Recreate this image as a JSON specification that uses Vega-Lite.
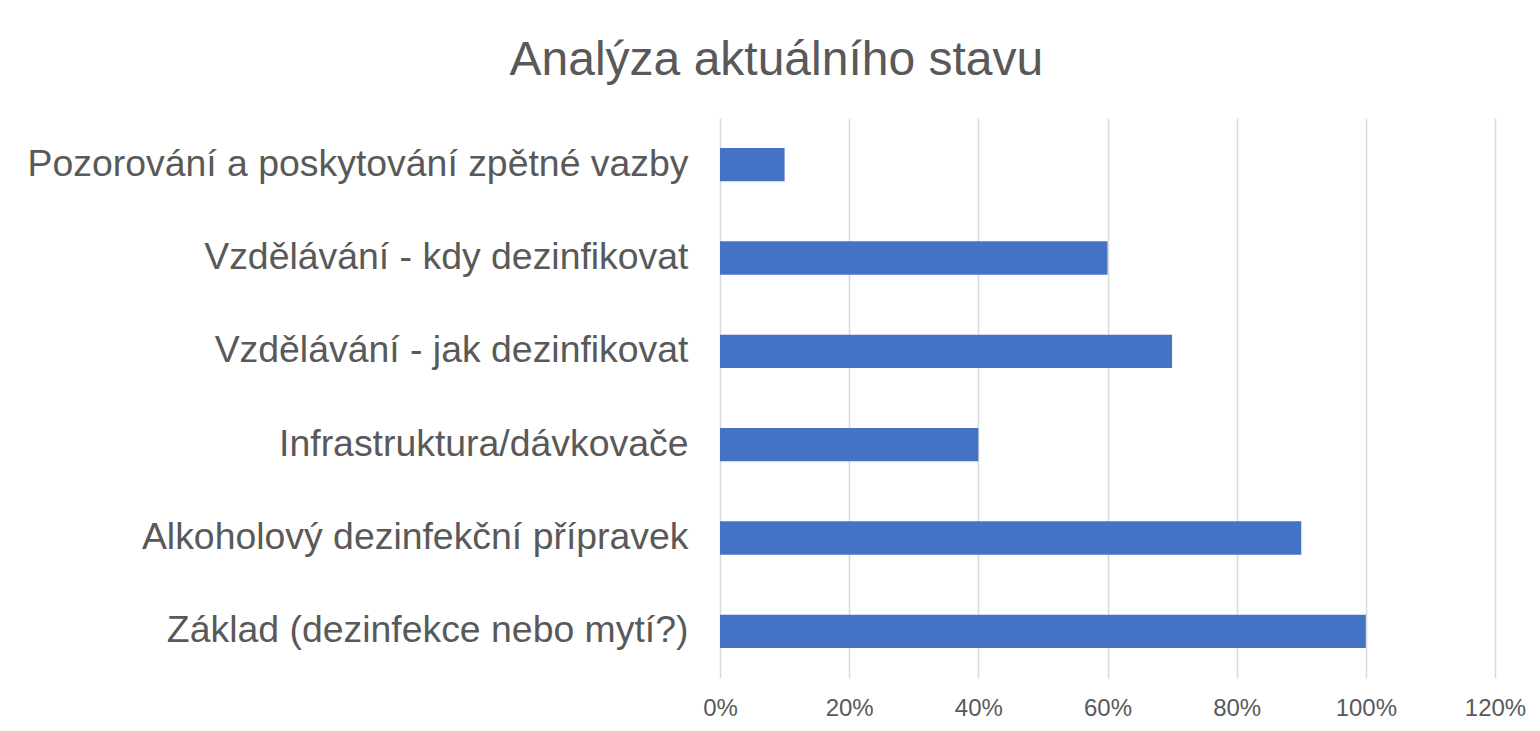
{
  "$schema": "https://vega.github.io/schema/vega-lite/v6.json",
  "autosize": "none",
  "width": 775,
  "height": 560,
  "padding": {"left": 720, "top": 118, "right": 45, "bottom": 53},
  "background": "white",
  "title": {
    "text": "Analýza aktuálního stavu",
    "font": "Liberation Sans",
    "fontSize": 48,
    "fontWeight": "normal",
    "color": "#595959",
    "anchor": "middle",
    "frame": "bounds",
    "offset": 33
  },
  "data": {
    "values": [
      {"kategorie": "Pozorování a poskytování zpětné vazby", "hodnota": 0.1},
      {"kategorie": "Vzdělávání - kdy dezinfikovat", "hodnota": 0.6},
      {"kategorie": "Vzdělávání - jak dezinfikovat", "hodnota": 0.7},
      {"kategorie": "Infrastruktura/dávkovače", "hodnota": 0.4},
      {"kategorie": "Alkoholový dezinfekční přípravek", "hodnota": 0.9},
      {"kategorie": "Základ (dezinfekce nebo mytí?)", "hodnota": 1.0}
    ]
  },
  "mark": {"type": "bar", "color": "#4472C4"},
  "encoding": {
    "y": {
      "field": "kategorie",
      "type": "nominal",
      "sort": null,
      "scale": {"paddingInner": 0.643, "paddingOuter": 0.3215},
      "axis": {
        "title": null,
        "domain": false,
        "ticks": false,
        "grid": false,
        "labelFont": "Liberation Sans",
        "labelFontSize": 37.4,
        "labelColor": "#595959",
        "labelPadding": 32,
        "labelLimit": 800
      }
    },
    "x": {
      "field": "hodnota",
      "type": "quantitative",
      "scale": {"domain": [0, 1.2], "nice": false, "zero": true},
      "axis": {
        "title": null,
        "format": ".0%",
        "values": [0, 0.2, 0.4, 0.6, 0.8, 1.0, 1.2],
        "domain": false,
        "ticks": false,
        "grid": true,
        "gridColor": "#d9d9d9",
        "gridWidth": 1.5,
        "labelFont": "Liberation Sans",
        "labelFontSize": 24,
        "labelColor": "#595959",
        "labelPadding": 18,
        "labelFlush": false
      }
    }
  },
  "config": {"view": {"stroke": null}}
}
